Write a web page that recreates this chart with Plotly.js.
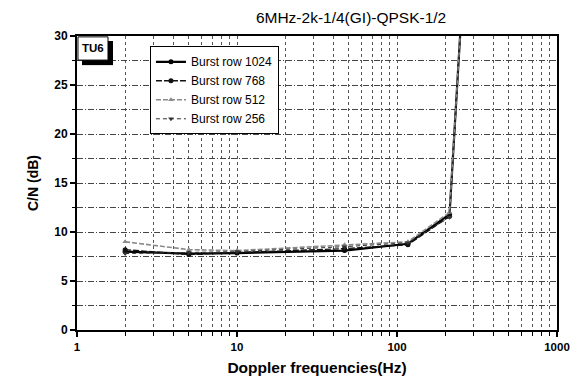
<!DOCTYPE html>
<html>
<head>
<meta charset="utf-8">
<script src="https://cdn.plot.ly/plotly-3.0.1.min.js"></script>
<style>
  html, body { margin: 0; padding: 0; background: #fff; }
  #chart { width: 571px; height: 384px; }
</style>
</head>
<body>
<div id="chart"></div>
<script>
// Doppler frequency (Hz) at which each burst-row setting was measured
const doppler = [2, 5, 10, 47, 117, 213, 250];

// Required C/N (dB) per burst row length
const burst1024 = [8.0, 7.8, 7.85, 8.1, 8.8, 11.8, 31];
const burst768  = [8.2, 7.7, 7.9, 8.3, 8.7, 11.6, 31];
const burst512  = [9.0, 8.2, 8.1, 8.7, 9.0, 12.0, 31];
const burst256  = [7.8, 7.9, 8.0, 8.5, 8.9, 11.5, 31];

const seriesNames = ['Burst row 1024', 'Burst row 768', 'Burst row 512', 'Burst row 256'];

// Axis ticks
const xMajorTicks = [1, 10, 100, 1000];
const xMajorLabels = ['1', '10', '100', '1000'];
const xMinorTicks = [2, 3, 4, 5, 6, 7, 8, 9, 20, 30, 40, 50, 60, 70, 80, 90,
                     200, 300, 400, 500, 600, 700, 800, 900];
const yMajorTicks = [0, 5, 10, 15, 20, 25, 30];
const yMajorLabels = ['0', '5', '10', '15', '20', '25', '30'];
const yMinorTicks = [2.5, 7.5, 12.5, 17.5, 22.5, 27.5];

const FONT = 'Liberation Sans, Arial, sans-serif';
const bold = s => '<b>' + s + '</b>';

const traces = [
  { x: doppler, y: burst1024, name: seriesNames[0], mode: 'lines+markers',
    line: { color: '#000', width: 2.2 },
    marker: { symbol: 'circle', size: 5, color: '#000' } },
  { x: doppler, y: burst768, name: seriesNames[1], mode: 'lines+markers',
    line: { color: '#111', width: 1.4, dash: '6px,2px' },
    marker: { symbol: 'circle', size: 5, color: '#111' } },
  { x: doppler, y: burst512, name: seriesNames[2], mode: 'lines+markers',
    line: { color: '#8a8a8a', width: 1.6, dash: '5px,2px' },
    marker: { symbol: 'triangle-up', size: 5, color: '#8a8a8a' } },
  { x: doppler, y: burst256, name: seriesNames[3], mode: 'lines+markers',
    line: { color: '#333', width: 1, dash: '4px,3px' },
    marker: { symbol: 'triangle-down', size: 5, color: '#333' } }
];

const layout = {
  width: 571, height: 384,
  margin: { l: 77, r: 14, t: 36, b: 54 },
  paper_bgcolor: '#fff', plot_bgcolor: '#fff',
  font: { family: FONT, color: '#000' },
  showlegend: true,
  title: {
    text: '6MHz-2k-1/4(GI)-QPSK-1/2',
    font: { family: FONT, size: 15.5, color: '#000' },
    x: 0.571, xref: 'paper', xanchor: 'center',
    y: 0.953, yref: 'container', yanchor: 'middle'
  },
  xaxis: {
    type: 'log',
    range: [0, 3],
    tickmode: 'array', tickvals: xMajorTicks, ticktext: xMajorLabels.map(bold),
    ticks: 'outside', ticklen: 5, tickwidth: 1.5, tickcolor: '#000',
    tickfont: { family: FONT, size: 11.5, color: '#000' },
    showline: true, linecolor: '#000', linewidth: 2, mirror: true,
    showgrid: true, gridcolor: '#555', gridwidth: 1, griddash: 'dot',
    zeroline: false,
    minor: {
      tickmode: 'array', tickvals: xMinorTicks,
      ticks: 'outside', ticklen: 4, tickwidth: 1, tickcolor: '#000',
      showgrid: true, gridcolor: '#555', gridwidth: 1, griddash: 'dot'
    },
    title: {
      text: bold('Doppler frequencies(Hz)'),
      font: { family: FONT, size: 15.5, color: '#000' },
      standoff: 10
    }
  },
  yaxis: {
    range: [0, 30],
    tickmode: 'array', tickvals: yMajorTicks, ticktext: yMajorLabels.map(bold),
    ticks: 'outside', ticklen: 5, tickwidth: 1.5, tickcolor: '#000',
    tickfont: { family: FONT, size: 12, color: '#000' },
    showline: true, linecolor: '#000', linewidth: 2, mirror: true,
    showgrid: true, gridcolor: '#444', gridwidth: 1, griddash: '6px,2px,1px,2px',
    zeroline: false,
    minor: {
      tickmode: 'array', tickvals: yMinorTicks,
      ticks: 'outside', ticklen: 3, tickwidth: 1, tickcolor: '#000',
      showgrid: true, gridcolor: '#444', gridwidth: 1, griddash: '6px,2px,1px,2px'
    },
    title: {
      text: bold('C/N (dB)'),
      font: { family: FONT, size: 14, color: '#000' },
      standoff: 12
    }
  },
  legend: {
    x: 0.152, y: 0.965, xanchor: 'left', yanchor: 'top',
    bgcolor: '#fff', bordercolor: '#000', borderwidth: 1,
    font: { family: FONT, size: 12, color: '#000' },
    tracegroupgap: 0, itemwidth: 30
  },
  shapes: [
    // drop shadow of the channel-model tag
    { type: 'rect', xref: 'paper', yref: 'paper',
      x0: 0.0104, x1: 0.075, y0: 0.901, y1: 0.983,
      fillcolor: '#000', line: { width: 0 } },
    // channel-model tag box
    { type: 'rect', xref: 'paper', yref: 'paper',
      x0: 0.002, x1: 0.0646, y0: 0.918, y1: 0.997,
      fillcolor: '#fff', line: { color: '#000', width: 1 } }
  ],
  annotations: [
    { text: '<b>TU6</b>', xref: 'paper', yref: 'paper',
      x: 0.033, y: 0.958, xanchor: 'center', yanchor: 'middle',
      showarrow: false, font: { family: FONT, size: 11.5, color: '#000' } }
  ]
};

Plotly.newPlot('chart', traces, layout, { displayModeBar: false, staticPlot: true });
</script>
</body>
</html>
